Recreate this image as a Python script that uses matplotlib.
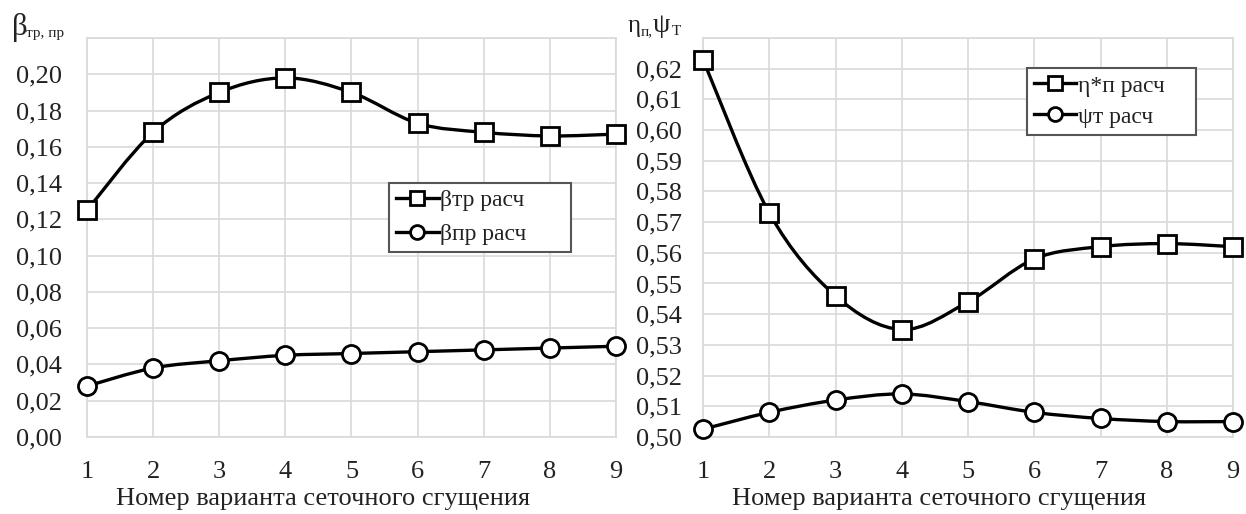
import matplotlib
matplotlib.use("Agg")
import matplotlib.pyplot as plt
from matplotlib.path import Path
from matplotlib.patches import PathPatch
from matplotlib.lines import Line2D
import numpy as np

plt.rcParams['font.family'] = ['Liberation Serif', 'DejaVu Serif']

# данные
variants = [1, 2, 3, 4, 5, 6, 7, 8, 9]
beta_tr = [0.125, 0.168, 0.190, 0.198, 0.190, 0.173, 0.168, 0.166, 0.167]
beta_pr = [0.028, 0.038, 0.042, 0.045, 0.046, 0.047, 0.048, 0.049, 0.050]
eta_p = [0.623, 0.573, 0.546, 0.535, 0.544, 0.558, 0.562, 0.563, 0.562]
psi_t = [0.5025, 0.508, 0.512, 0.514, 0.5115, 0.508, 0.506, 0.505, 0.505]

left_ticks = [0.00, 0.02, 0.04, 0.06, 0.08, 0.10, 0.12, 0.14, 0.16, 0.18, 0.20]
right_ticks = [0.50, 0.51, 0.52, 0.53, 0.54, 0.55, 0.56, 0.57, 0.58, 0.59, 0.60, 0.61, 0.62]
xlabel = 'Номер варианта сеточного сгущения'

txt_c = '#222222'


def smooth_path(x, y):
    # сглаженная линия как в Excel (кривые Безье)
    p = np.column_stack([x, y]).astype(float)
    n = len(p)
    verts = [p[0]]
    codes = [Path.MOVETO]
    for i in range(n - 1):
        p0 = p[i - 1] if i > 0 else p[i]
        p3 = p[i + 2] if i + 2 < n else p[i + 1]
        c1 = p[i] + (p[i + 1] - p0) / 6
        c2 = p[i + 1] - (p3 - p[i]) / 6
        verts += [c1, c2, p[i + 1]]
        codes += [Path.CURVE4] * 3
    return Path(verts, codes)


def draw_series(ax, x, y, marker):
    ax.add_patch(PathPatch(smooth_path(x, y), fill=False, lw=2.4,
                           edgecolor='black', zorder=3, clip_on=False))
    ax.plot(x, y, linestyle='none', marker=marker, ms=13, mfc='white',
            mec='black', mew=2, zorder=4, clip_on=False)


fig = plt.figure(figsize=(12.46, 5.14), dpi=100)
ax1 = fig.add_axes([0.0698, 0.150, 0.4246, 0.776])
ax2 = fig.add_axes([0.5642, 0.150, 0.4254, 0.776])

grid_c = '#d9d9d9'
for ax in (ax1, ax2):
    ax.set_xlim(1, 9)
    ax.set_xticks(variants)
    ax.grid(True, color=grid_c, lw=1.2)
    ax.set_axisbelow(True)
    for s in ax.spines.values():
        s.set_color(grid_c)
        s.set_linewidth(1.2)
    ax.tick_params(length=0, labelsize=19, colors=txt_c)
    ax.tick_params(axis='x', pad=17)
    ax.set_xlabel(xlabel, fontsize=19, color=txt_c)
    ax.xaxis.set_label_coords(0.446, -0.128, transform=ax.transAxes)

ax1.tick_params(axis='y', pad=18)
ax2.tick_params(axis='y', pad=15)

ax1.set_ylim(0, 0.22)
ax1.set_yticks(left_ticks + [0.22])
ax1.set_yticklabels([f'{v:.2f}'.replace('.', ',') for v in left_ticks] + [''])
ax2.set_ylim(0.50, 0.63)
ax2.set_yticks(right_ticks + [0.63])
ax2.set_yticklabels([f'{v:.2f}'.replace('.', ',') for v in right_ticks] + [''])

draw_series(ax1, variants, beta_tr, 's')
draw_series(ax1, variants, beta_pr, 'o')
draw_series(ax2, variants, eta_p, 's')
draw_series(ax2, variants, psi_t, 'o')


def handles():
    return [Line2D([], [], color='black', lw=2.4, marker='s', ms=10, mfc='white', mec='black', mew=2),
            Line2D([], [], color='black', lw=2.4, marker='o', ms=10, mfc='white', mec='black', mew=2)]


leg1 = ax1.legend(handles(), ['βтр расч', 'βпр расч'], loc='upper left',
                  bbox_to_anchor=(0.571, 0.637, 0.344, 0.0), mode='expand',
                  fontsize=17, handlelength=1.8,
                  handletextpad=0.05, fancybox=False, framealpha=1, borderpad=0.3,
                  labelspacing=0.5, borderaxespad=0)
leg2 = ax2.legend(handles(), ['η*п расч', 'ψт расч'], loc='upper left',
                  bbox_to_anchor=(0.611, 0.925, 0.319, 0.0), mode='expand',
                  fontsize=17, handlelength=1.8,
                  handletextpad=0.05, fancybox=False, framealpha=1, borderpad=0.3,
                  labelspacing=0.4, borderaxespad=0)
for leg in (leg1, leg2):
    leg.get_frame().set_edgecolor('#555555')
    leg.get_frame().set_linewidth(1.5)
    for t in leg.get_texts():
        t.set_color(txt_c)

# подписи осей Y
fig.text(0.0096, 0.932, 'β', fontsize=22, color=txt_c, va='baseline')
fig.text(0.0205, 0.928, 'тр, пр', fontsize=11, color=txt_c, va='baseline')
fig.text(0.504, 0.937, 'η', fontsize=18, color=txt_c, va='baseline')
fig.text(0.5145, 0.932, 'п,', fontsize=11, color=txt_c, va='baseline')
fig.text(0.5235, 0.937, 'ψ', fontsize=20, color=txt_c, va='baseline')
fig.text(0.5395, 0.932, 'Т', fontsize=11, color=txt_c, va='baseline')

fig.savefig('out.png', dpi=100)
